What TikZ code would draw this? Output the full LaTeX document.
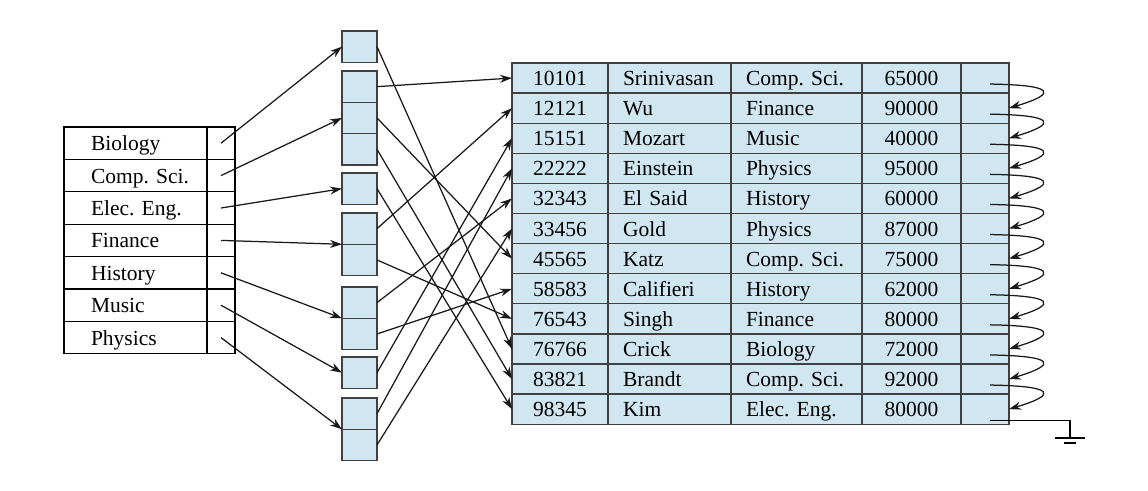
\documentclass[tikz,border=0pt]{standalone}
\usepackage{fontspec}
\setmainfont{Liberation Serif}
\usetikzlibrary{positioning, arrows.meta, calc}
\definecolor{cellblue}{RGB}{208,230,240}
\definecolor{cellline}{RGB}{64,64,64}

\begin{document}
\frenchspacing
\begin{tikzpicture}[x=1pt, y=-1pt, >={Stealth[length=12pt, width=8pt]},
    font=\fontsize{21.5}{26}\selectfont,
    box/.style={draw, line width=1.3pt, outer sep=0pt, inner xsep=2pt, inner ysep=0pt,
      text height=15pt, text depth=0pt},
    cell/.style={box, draw=cellline, fill=cellblue, minimum height=30.1pt},
    numcell/.style={cell, minimum width=#1},
    txtcell/.style={cell, text width=#1, align=left, execute at begin node=\hspace*{13pt}},
    deptcell/.style={box, minimum height=32.4pt, text width=139pt, align=left,
      execute at begin node=\hspace*{25pt}},
    ptrcell/.style={box, minimum height=32.4pt, minimum width=28pt},
    bkt/.style={cell, minimum width=35pt, minimum height=31.3pt, anchor=north west},
    link/.style={->, line width=1.25pt, black!90}]
  \useasboundingbox (0,0) rectangle (1148,490);

  % index on dept_name
  \foreach \row/\dept in {1/Biology, 2/Comp. Sci., 3/Elec. Eng., 4/Finance,
      5/History, 6/Music, 7/Physics} {
    \node[deptcell, anchor=north west] (dn\row) at (64, {127+32.4*(\row-1)}) {\dept};
    \node[ptrcell, right=0pt of dn\row] (dp\row) {};
  }

  % buckets
  \node[bkt] (b1) at (342,31) {};
  \node[bkt] (b21) at (342,71) {};
  \node[bkt, below=0pt of b21] (b22) {};
  \node[bkt, below=0pt of b22] (b23) {};
  \node[bkt] (b3) at (342,173) {};
  \node[bkt] (b41) at (342,213) {};
  \node[bkt, below=0pt of b41] (b42) {};
  \node[bkt] (b51) at (342,287) {};
  \node[bkt, below=0pt of b51] (b52) {};
  \node[bkt] (b6) at (342,357) {};
  \node[bkt] (b71) at (342,398) {};
  \node[bkt, below=0pt of b71] (b72) {};

  % instructor file
  \foreach \row/\iid/\iname/\idept/\isal in {1/10101/Srinivasan/Comp. Sci./65000,
      2/12121/Wu/Finance/90000, 3/15151/Mozart/Music/40000,
      4/22222/Einstein/Physics/95000, 5/32343/El Said/History/60000,
      6/33456/Gold/Physics/87000, 7/45565/Katz/Comp. Sci./75000,
      8/58583/Califieri/History/62000, 9/76543/Singh/Finance/80000,
      10/76766/Crick/Biology/72000, 11/83821/Brandt/Comp. Sci./92000,
      12/98345/Kim/Elec. Eng./80000} {
    \node[numcell=96pt, anchor=north west] (id\row) at (512, {63+30.1*(\row-1)}) {\iid};
    \node[txtcell=119pt, right=0pt of id\row] (nm\row) {\iname};
    \node[txtcell=127pt, right=0pt of nm\row] (dt\row) {\idept};
    \node[numcell=99pt, right=0pt of dt\row] (sal\row) {\isal};
    \node[numcell=48pt, right=0pt of sal\row] (ptr\row) {};
  }

  % index -> buckets
  \draw[link] (dp1.center) -- (b1.west);
  \draw[link] (dp2.center) -- (b22.west);
  \draw[link] (dp3.center) -- (b3.west);
  \draw[link] (dp4.center) -- (b41.south west);
  \draw[link] (dp5.center) -- (b51.south west);
  \draw[link] (dp6.center) -- (b6.west);
  \draw[link] (dp7.center) -- (b71.south west);

  % buckets -> records
  \draw[link] (b1.east) -- (id10.west);
  \draw[link] (b21.east) -- (id1.west);
  \draw[link] (b22.east) -- (id7.west);
  \draw[link] (b23.east) -- (id11.west);
  \draw[link] (b3.east) -- (id12.west);
  \draw[link] (b41.east) -- (id2.west);
  \draw[link] (b42.east) -- (id9.west);
  \draw[link] (b51.east) -- (id5.west);
  \draw[link] (b52.east) -- (id8.west);
  \draw[link] (b6.east) -- (id3.west);
  \draw[link] (b71.east) -- (id4.west);
  \draw[link] (b72.east) -- (id6.west);

  % record chain
  \foreach \row [evaluate=\row as \nxt using int(\row+1)] in {1,...,11}
    \draw[link] ($(ptr\row.center)+(5,6)$) .. controls +(64,1) and +(50,-15) .. (ptr\nxt.east);

  % end of chain
  \coordinate (gnd) at (1070,438);
  \draw[line width=1.25pt] ($(ptr12.center)+(5,11)$) -| (gnd);
  \draw[line width=1.25pt] ($(gnd)+(-15,0)$) -- ($(gnd)+(15,0)$);
  \draw[line width=1.25pt] ($(gnd)+(-6,5)$) -- ($(gnd)+(6,5)$);
\end{tikzpicture}
\end{document}
